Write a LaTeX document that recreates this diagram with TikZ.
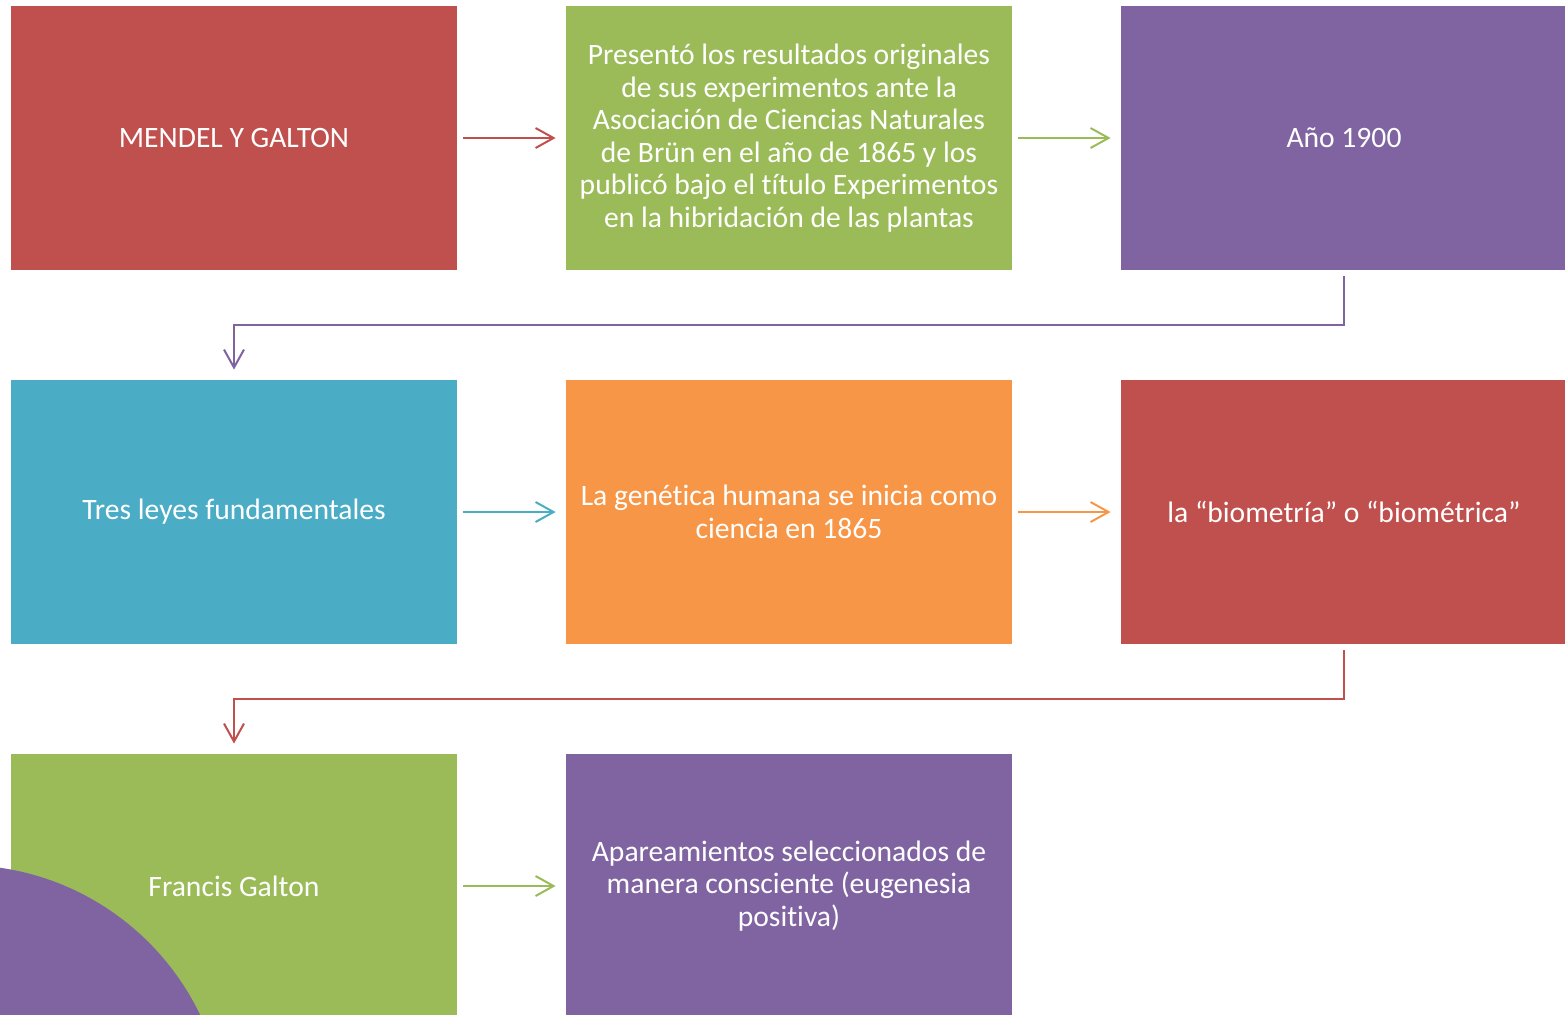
\documentclass[tikz,border=0pt]{standalone}
\usepackage{fontspec}
\setmainfont[Ligatures=NoCommon]{Carlito}
\usetikzlibrary{arrows.meta}
\definecolor{boxred}{HTML}{C0504D}
\definecolor{boxgreen}{HTML}{9BBB59}
\definecolor{boxpurple}{HTML}{8064A2}
\definecolor{boxblue}{HTML}{4BACC6}
\definecolor{boxorange}{HTML}{F79646}
\tikzset{
  box/.style={rectangle, minimum width=223pt, minimum height=132pt, inner sep=0pt,
    text=white, align=center, font=\fontsize{14.8}{16.25}\selectfont},
  link/.style={line width=1pt, -{Straight Barb[length=9pt,width=10pt]},
    shorten <=3pt, shorten >=5pt}
}
\begin{document}
\begin{tikzpicture}[x=0.5pt, y=-0.5pt]
  \useasboundingbox (0,0) rectangle (1565,1014);
  \clip (0,0) rectangle (1565,1014);
  % First row
  \node[box, fill=boxred] (mendel) at (234,138) {MENDEL Y GALTON};
  \node[box, fill=boxgreen] (presento) at (789,138) {Presentó los resultados originales\\
    de sus experimentos ante la\\ Asociación de Ciencias Naturales\\
    de Brün en el año de 1865 y los\\ publicó bajo el título Experimentos\\
    en la hibridación de las plantas};
  \node[box, fill=boxpurple] (anio) at (1344,138) {Año 1900};
  % Second row
  \node[box, fill=boxblue] (leyes) at (234,512) {Tres leyes fundamentales};
  \node[box, fill=boxorange] (genetica) at (789,512) {La genética humana se inicia como\\
    ciencia en 1865};
  \node[box, fill=boxred] (biometria) at (1344,512) {la “biometría” o “biométrica”};
  % Third row
  \node[box, fill=boxgreen] (galton) at (234,886) {Francis Galton};
  \node[box, fill=boxpurple] (apareamientos) at (789,886) {Apareamientos seleccionados de\\
    manera consciente (eugenesia\\ positiva)};
  % Arrows between boxes
  \draw[link, boxred] (mendel) -- (presento);
  \draw[link, boxgreen] (presento) -- (anio);
  \draw[link, boxpurple] (anio.south) -- ++(0,55) -| (leyes.north);
  \draw[link, boxblue] (leyes) -- (genetica);
  \draw[link, boxorange] (genetica) -- (biometria);
  \draw[link, boxred] (biometria.south) -- ++(0,55) -| (galton.north);
  \draw[link, boxgreen] (galton) -- (apareamientos);
  % Corner circle
  \fill[boxpurple] (-38,1129) circle[radius=132pt];
\end{tikzpicture}
\end{document}
